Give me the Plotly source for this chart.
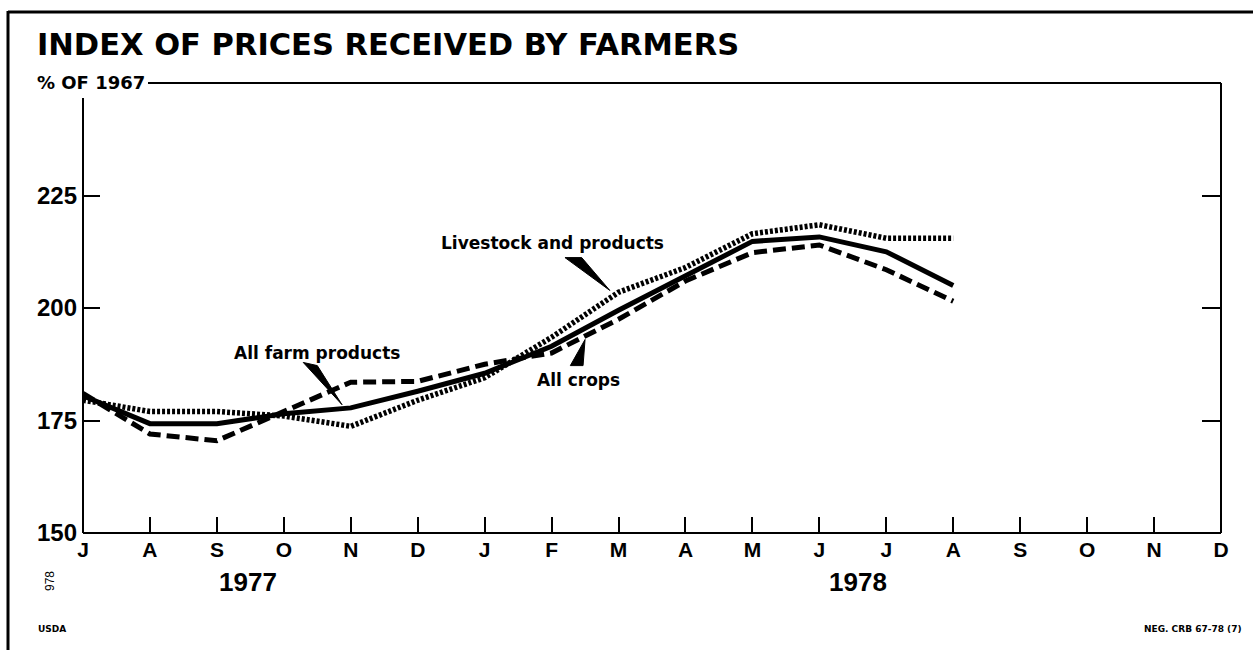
import plotly.graph_objects as go

months = ["J", "A", "S", "O", "N", "D", "J", "F", "M", "A", "M", "J", "J", "A", "S", "O", "N", "D"]
month_idx = list(range(len(months)))

all_farm = [180.5, 174.3, 174.3, 176.5, 177.8, 181.5, 185.5, 191.5, 199.5, 207.0, 214.8, 215.8, 212.5, 205.0]
all_crops = [181.0, 172.0, 170.5, 177.0, 183.5, 183.7, 187.5, 190.0, 197.5, 206.0, 212.3, 214.0, 208.5, 201.5]
livestock = [179.5, 177.0, 177.0, 176.0, 173.7, 179.5, 184.5, 193.5, 203.5, 209.0, 216.5, 218.5, 215.5, 215.5]

y_ticks = [150, 175, 200, 225]

W, H = 1253, 650
L, R, T, B = 83, 1221, 83, 533


def px(x):
    return (x - L) / (R - L)


def py(y):
    return (B - y) / (B - T)


FONT = "Liberation Sans"
WIDE = "DejaVu Sans"
fig = go.Figure()

fig.add_trace(go.Scatter(x=month_idx[:len(all_crops)], y=all_crops, mode="lines",
                         line=dict(color="black", width=5, dash="13px,6px"),
                         name="All crops", showlegend=False))
fig.add_trace(go.Scatter(x=month_idx[:len(livestock)], y=livestock, mode="lines",
                         line=dict(color="black", width=5.5, dash="3px,2px"),
                         name="Livestock and products", showlegend=False))
fig.add_trace(go.Scatter(x=month_idx[:len(all_farm)], y=all_farm, mode="lines",
                         line=dict(color="black", width=5),
                         name="All farm products", showlegend=False))
# right-side ticks
fig.add_trace(go.Scatter(x=[None], y=[None], yaxis="y2", showlegend=False))

shapes = []
# frame lines
shapes.append(dict(type="line", xref="paper", yref="paper", x0=px(8), x1=px(8), y0=py(11), y1=py(650),
                   line=dict(color="black", width=3)))
shapes.append(dict(type="line", xref="paper", yref="paper", x0=px(8), x1=px(1253), y0=py(12), y1=py(12),
                   line=dict(color="black", width=3)))
# plot box
shapes.append(dict(type="line", xref="paper", yref="paper", x0=px(148), x1=1, y0=1, y1=1,
                   line=dict(color="black", width=2)))
shapes.append(dict(type="line", xref="paper", yref="paper", x0=0, x1=0, y0=py(98), y1=0,
                   line=dict(color="black", width=2)))
shapes.append(dict(type="line", xref="paper", yref="paper", x0=1, x1=1, y0=1, y1=0,
                   line=dict(color="black", width=2)))
shapes.append(dict(type="line", xref="paper", yref="paper", x0=0, x1=1, y0=0, y1=0,
                   line=dict(color="black", width=2)))


# label pointer wedges
def wedge(bx0, by0, bx1, by1, tx, ty):
    return dict(type="path", xref="x", yref="y",
                path=f"M {bx0} {by0} L {bx1} {by1} L {tx} {ty} Z",
                fillcolor="black", line=dict(color="black", width=1))


shapes.append(wedge(7.20, 211.2, 7.45, 211.2, 7.87, 203.9))
shapes.append(wedge(3.29, 187.9, 3.50, 187.2, 3.87, 178.5))
shapes.append(wedge(7.28, 187.2, 7.47, 187.2, 7.50, 193.0))

ann = []
ann.append(dict(text="<b>INDEX OF PRICES RECEIVED BY FARMERS</b>", xref="paper", yref="paper",
                x=px(35), y=py(45), xanchor="left", yanchor="middle", showarrow=False,
                font=dict(family=WIDE, size=30.5, color="black")))
ann.append(dict(text="<b>% OF 1967</b>", xref="paper", yref="paper",
                x=px(35), y=py(82), xanchor="left", yanchor="middle", showarrow=False,
                font=dict(family=WIDE, size=18, color="black")))
ann.append(dict(text="<b>Livestock and products</b>", xref="paper", yref="paper",
                x=px(552), y=py(243), xanchor="center", yanchor="middle", showarrow=False,
                font=dict(family=WIDE, size=17, color="black")))
ann.append(dict(text="<b>All farm products</b>", xref="paper", yref="paper",
                x=px(317), y=py(353), xanchor="center", yanchor="middle", showarrow=False,
                font=dict(family=WIDE, size=17, color="black")))
ann.append(dict(text="<b>All crops</b>", xref="paper", yref="paper",
                x=px(578), y=py(380), xanchor="center", yanchor="middle", showarrow=False,
                font=dict(family=WIDE, size=17, color="black")))
ann.append(dict(text="<b>1977</b>", xref="paper", yref="paper",
                x=px(248), y=py(582), xanchor="center", yanchor="middle", showarrow=False,
                font=dict(family=FONT, size=26, color="black")))
ann.append(dict(text="<b>1978</b>", xref="paper", yref="paper",
                x=px(858), y=py(582), xanchor="center", yanchor="middle", showarrow=False,
                font=dict(family=FONT, size=26, color="black")))
ann.append(dict(text="978", xref="paper", yref="paper", textangle=-90,
                x=px(50), y=py(581), xanchor="center", yanchor="middle", showarrow=False,
                font=dict(family=FONT, size=12, color="black")))
ann.append(dict(text="<b>USDA</b>", xref="paper", yref="paper",
                x=px(36), y=py(629), xanchor="left", yanchor="middle", showarrow=False,
                font=dict(family=WIDE, size=9, color="black")))
ann.append(dict(text="<b>NEG. CRB 67-78 (7)</b>", xref="paper", yref="paper",
                x=px(1244), y=py(629), xanchor="right", yanchor="middle", showarrow=False,
                font=dict(family=WIDE, size=9, color="black")))

fig.update_layout(
    width=W, height=H,
    margin=dict(l=L, r=W - R, t=T, b=H - B),
    paper_bgcolor="white", plot_bgcolor="white",
    showlegend=False,
    shapes=shapes, annotations=ann,
    xaxis=dict(range=[0, 17], tickmode="array", tickvals=month_idx, ticktext=[f"<b>{m}</b>" for m in months],
               ticks="inside", ticklen=16, tickwidth=2, tickcolor="black",
               showgrid=False, zeroline=False, showline=False, ticklabelstandoff=2,
               tickfont=dict(family=FONT, size=21, color="black")),
    yaxis=dict(range=[150, 250], tickmode="array", tickvals=y_ticks, ticktext=[f"<b>{v}</b>" for v in y_ticks],
               ticks="inside", ticklen=17, tickwidth=2, tickcolor="black",
               showgrid=False, zeroline=False, showline=False, ticklabelstandoff=5,
               tickfont=dict(family=FONT, size=24, color="black")),
    yaxis2=dict(range=[150, 250], overlaying="y", side="right", tickmode="array", tickvals=y_ticks,
                ticks="inside", ticklen=19, tickwidth=2, tickcolor="black", showticklabels=False,
                showgrid=False, zeroline=False, showline=False),
)

fig.write_html("out.html", config={"displayModeBar": False},
               post_script="document.body.style.margin='0';")
